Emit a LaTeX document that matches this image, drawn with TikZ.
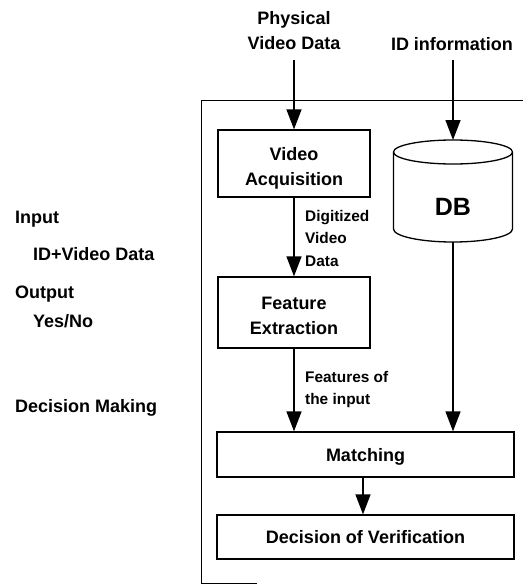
\documentclass[tikz,border=0pt]{standalone}
\usepackage{fontspec}
\setmainfont{Liberation Sans}
\usetikzlibrary{arrows.meta}
\begin{document}
\begin{tikzpicture}[x=1pt,y=-1pt,
  font=\bfseries\fontsize{18}{25}\selectfont,
  stage/.style={draw, line width=1.3pt, inner sep=0pt},
  boxlabel/.style={align=center, inner sep=0pt},
  arr/.style={line width=1.4pt, -{Triangle[length=20pt,width=15pt]}},
  note/.style={font=\bfseries\fontsize{15.4}{22.5}\selectfont, align=left,
               anchor=north west, inner sep=0pt},
  side/.style={anchor=base west, inner sep=0pt}]
\useasboundingbox (0,0) rectangle (526,584);

% system frame (open to the right)
\draw[line width=0.9pt] (523,100) -- (201,100) -- (201,583) -- (257,583);

% processing stages
\node[stage, minimum width=152pt, minimum height=67pt,
      label={[boxlabel, yshift=-5pt]center:Video\\Acquisition}] (va) at (294,163.5) {};
\node[stage, minimum width=152pt, minimum height=71pt,
      label={[boxlabel, yshift=-3pt]center:Feature\\Extraction}] (fe) at (294,312.5) {};
\node[stage, minimum width=297pt, minimum height=45pt,
      label={[boxlabel, yshift=-2pt]center:Matching}] (match) at (365.5,454.5) {};
\node[stage, minimum width=297pt, minimum height=44pt] (dec) at (365.5,537) {Decision of Verification};

% database cylinder
\draw[line width=1.3pt] (453,152) ellipse [x radius=59.5pt, y radius=12pt];
\draw[line width=1.3pt] (393.5,152) -- (393.5,229)
  arc[start angle=180, end angle=360, x radius=59.5pt, y radius=13pt] -- (512.5,152);
\coordinate (dbtop) at (453,140);
\coordinate (dbbot) at (453,242);
\node[font=\bfseries\fontsize{25}{25}\selectfont, inner sep=0pt, anchor=base] (db) at (453,215) {DB};

% external inputs
\node[boxlabel, anchor=south] (pvd) at (294,50) {Physical\\Video Data};
\node[anchor=base, inner sep=0pt] (idi) at (452,50) {ID information};
\coordinate (pvdfoot) at (294,60);
\coordinate (idfoot) at (453,60);

% data flow
\draw[arr] (pvdfoot) -- (va.north);
\draw[arr] (idfoot) -- (dbtop);
\draw[arr] (va.south) -- (fe.north);
\draw[arr] (fe.south) -- (fe.south |- match.north);
\draw[arr] (dbbot) -- (dbbot |- match.north);
\draw[arr] (match.south -| 363,0) -- (dec.north -| 363,0);

% flow annotations
\node[note] (dig) at (305,210) {Digitized\\Video\\Data};
\node[note] (feat) at (305,371) {Features of\\the input};

% system summary
\node[side] (inp) at (15,223) {Input};
\node[side] (inpv) at (33,260) {ID+Video Data};
\node[side] (outp) at (15,298) {Output};
\node[side] (outv) at (33,327) {Yes/No};
\node[side] (dm) at (15,412) {Decision Making};
\end{tikzpicture}
\end{document}
